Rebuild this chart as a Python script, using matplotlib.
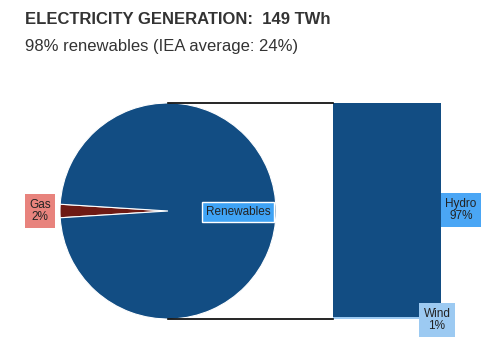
import matplotlib.pyplot as plt

plt.rcParams['font.family'] = ['Liberation Sans', 'DejaVu Sans']

pie_labels = ['Gas', 'Renewables']
pie_values = [2, 98]
bar_labels = ['Wind', 'Hydro']
bar_values = [1, 97]

DARK_BLUE = '#124d83'
GAS_RED = '#6e1a14'
WIND_BLUE = '#9ccaf2'

fig = plt.figure(figsize=(4.93, 3.52), dpi=100)
ax = fig.add_axes([0, 0, 1, 1])

fig.text(25 / 493, 1 - 20 / 352, 'ELECTRICITY GENERATION:  149 TWh',
         fontsize=12, fontweight='bold', color='#333333', va='center')
fig.text(25 / 493, 1 - 47 / 352, '98% renewables (IEA average: 24%)',
         fontsize=12, color='#333333', va='center')

# pie, gas centred on the left
cx, cy, r = 168, 211, 108
ax.pie(pie_values, colors=[GAS_RED, DARK_BLUE], center=(cx, cy), radius=r,
       startangle=180 - pie_values[0] / 100 * 360 / 2, counterclock=True,
       wedgeprops=dict(edgecolor='white', linewidth=0.8), frame=True)
ax.set_xlim(0, 493)
ax.set_ylim(352, 0)
ax.set_aspect('equal')
ax.axis('off')
ax.set_zorder(2)

# connector lines
ax.plot([cx, 333], [cy - r, cy - r], color='black', lw=1.2)
ax.plot([cx, 333], [cy + r, cy + r], color='black', lw=1.2)

lbl = dict(fontsize=8.5, color='#222222', ha='center', va='center', linespacing=1.1)
ax.text(40, 211, 'Gas\n2%', bbox=dict(boxstyle='square,pad=0.35', fc='#e8837d', ec='none'), **lbl)
ax.text(238, 212, 'Renewables',
        bbox=dict(boxstyle='square,pad=0.3', fc='#3fa3f5', ec='white', lw=1), **lbl)

# stacked bar of renewables
bax = fig.add_axes([333 / 493, 1 - 319 / 352, 108 / 493, 216 / 352])
bax.set_zorder(1)
bax.bar(0, bar_values[0], width=1, color=WIND_BLUE)
bax.bar(0, bar_values[1], bottom=bar_values[0], width=1, color=DARK_BLUE)
bax.set_xlim(-0.5, 0.5)
bax.set_ylim(0, sum(bar_values))
bax.axis('off')

ax.text(461, 210, 'Hydro\n97%', bbox=dict(boxstyle='square,pad=0.35', fc='#4aa6f5', ec='none'), **lbl)
ax.text(437, 320, 'Wind\n1%', bbox=dict(boxstyle='square,pad=0.35', fc=WIND_BLUE, ec='none'), **lbl)

fig.savefig('out.png', dpi=100)
